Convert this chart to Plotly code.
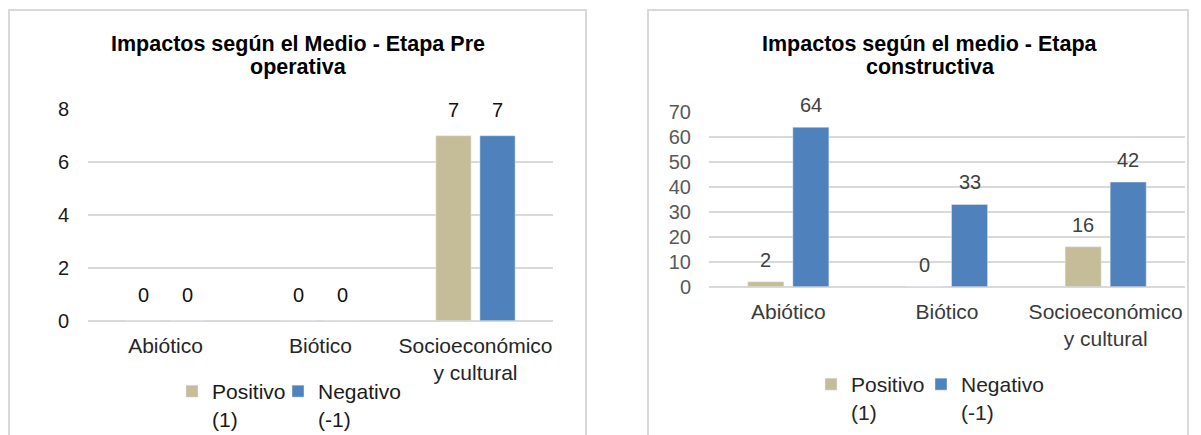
import plotly.graph_objects as go

W, H = 1201, 435

categories = ["Abiótico", "Biótico", "Socioeconómico<br>y cultural"]
series_names = ["Positivo<br>(1)", "Negativo<br>(-1)"]
pre_positivo = [0, 0, 7]
pre_negativo = [0, 0, 7]
con_positivo = [2, 0, 16]
con_negativo = [64, 33, 42]
pre_title = ["Impactos según el Medio - Etapa Pre", "operativa"]
con_title = ["Impactos según el medio - Etapa", "constructiva"]
pre_ticks = [0, 2, 4, 6, 8]
con_ticks = [0, 10, 20, 30, 40, 50, 60, 70]

TAN = "#C4BD97"
BLUE = "#4F81BD"
FONT = "Liberation Sans, Arial, sans-serif"
GRID = "#D9D9D9"

def px_x(p):
    return p / W

def px_y(p):
    return 1 - p / H

BARGAP = 0.432
GROUPGAP = 0.2

fig = go.Figure()

# left chart
fig.add_trace(go.Bar(x=categories, y=pre_positivo, name=series_names[0], marker_color=TAN,
                     xaxis="x", yaxis="y", legend="legend", offsetgroup="p1"))
fig.add_trace(go.Bar(x=categories, y=pre_negativo, name=series_names[1], marker_color=BLUE,
                     xaxis="x", yaxis="y", legend="legend2", offsetgroup="n1"))
# right chart
fig.add_trace(go.Bar(x=categories, y=con_positivo, name=series_names[0], marker_color=TAN,
                     xaxis="x2", yaxis="y2", legend="legend3", offsetgroup="p2"))
fig.add_trace(go.Bar(x=categories, y=con_negativo, name=series_names[1], marker_color=BLUE,
                     xaxis="x2", yaxis="y2", legend="legend4", offsetgroup="n2"))

off = (1 - BARGAP) / 4
annotations = []
for xa, ya, pos, neg, shift, col in [("x", "y", pre_positivo, pre_negativo, 26, "#111111"),
                                      ("x2", "y2", con_positivo, con_negativo, 22, "#404040")]:
    for i in range(len(categories)):
        for v, o in [(pos[i], -off), (neg[i], off)]:
            annotations.append(dict(x=i + o, y=v, xref=xa, yref=ya, text=str(v), showarrow=False,
                                    yanchor="middle", xanchor="center", yshift=shift,
                                    font=dict(family=FONT, size=20, color=col)))

# titles
for lines, cx in [(pre_title, 298), (con_title, 930)]:
    for j, (t, cy) in enumerate(zip(lines, [44, 67])):
        annotations.append(dict(x=px_x(cx), y=px_y(cy), xref="paper", yref="paper", text="<b>%s</b>" % t,
                                showarrow=False, xanchor="center", yanchor="middle",
                                font=dict(family=FONT, size=21.5, color="#000000")))

shapes = [
    dict(type="rect", xref="paper", yref="paper", x0=px_x(9), x1=px_x(586), y0=px_y(445), y1=px_y(10),
         line=dict(color=GRID, width=2), fillcolor="rgba(0,0,0,0)", layer="below"),
    dict(type="rect", xref="paper", yref="paper", x0=px_x(648), x1=px_x(1188), y0=px_y(445), y1=px_y(10),
         line=dict(color=GRID, width=2), fillcolor="rgba(0,0,0,0)", layer="below"),
]

common_x = dict(type="category", range=[-0.5, 2.5], showgrid=False, zeroline=False, showline=False,
                ticks="", ticklabelstandoff=10, fixedrange=True)
common_y = dict(showgrid=True, gridcolor=GRID, gridwidth=1.5, zeroline=True, zerolinecolor=GRID,
                zerolinewidth=1.5, showline=False, ticks="", fixedrange=True)

def leg(square_left_px, top_px, color):
    return dict(orientation="h", x=px_x(square_left_px - 14), xanchor="left", y=px_y(top_px), yanchor="top",
                font=dict(family=FONT, size=21, color=color), valign="top",
                bgcolor="rgba(0,0,0,0)")

fig.update_layout(
    width=W, height=H,
    margin=dict(l=0, r=0, t=0, b=0, autoexpand=False),
    paper_bgcolor="white", plot_bgcolor="white",
    barmode="group", bargap=BARGAP, bargroupgap=GROUPGAP,
    font=dict(family=FONT, size=20, color="#262626"),
    xaxis=dict(domain=[px_x(88), px_x(553)], anchor="y",
               tickfont=dict(family=FONT, size=21, color="#262626"), **common_x),
    yaxis=dict(domain=[px_y(320.7), px_y(109.3)], anchor="x", range=[0, 8], tickvals=pre_ticks,
               tickfont=dict(family=FONT, size=20, color="#1a1a1a"), ticklabelstandoff=18, **common_y),
    xaxis2=dict(domain=[px_x(709), px_x(1185)], anchor="y2",
                tickfont=dict(family=FONT, size=21, color="#3a3a3a"), **common_x),
    yaxis2=dict(domain=[px_y(286.7), px_y(112.3)], anchor="x2", range=[0, 70], tickvals=con_ticks,
                tickfont=dict(family=FONT, size=20, color="#595959"), ticklabelstandoff=17, **common_y),
    legend=leg(186, 371, "#1a1a1a"),
    legend2=leg(292, 371, "#1a1a1a"),
    legend3=leg(825, 364, "#262626"),
    legend4=leg(935, 364, "#262626"),
    annotations=annotations,
    shapes=shapes,
    showlegend=True,
)

fig.write_html("out.html")
